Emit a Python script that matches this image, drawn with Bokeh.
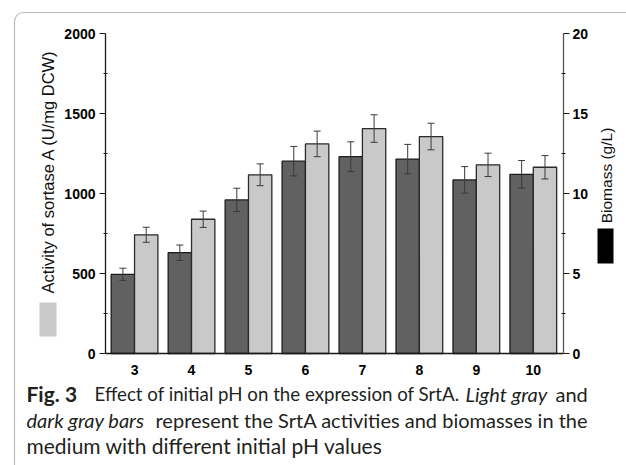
from bokeh.plotting import figure
from bokeh.models import (ColumnDataSource, Range1d, LinearAxis, Label,
                          BoxAnnotation, FixedTicker, Whisker, TeeHead)
from bokeh.transform import dodge
from bokeh.embed import file_html
from bokeh.resources import INLINE

# Initial pH of the medium
ph = [3, 4, 5, 6, 7, 8, 9, 10]
# SrtA activity (U/mg DCW), light gray bars, left axis
activity = [742, 839, 1117, 1310, 1406, 1356, 1179, 1164]
activity_err = [47, 51, 68, 80, 86, 83, 73, 73]
# Biomass (g/L), dark gray bars, right axis
biomass = [4.95, 6.30, 9.60, 12.02, 12.30, 12.15, 10.85, 11.20]
biomass_err = [0.38, 0.48, 0.73, 0.92, 0.93, 0.92, 0.83, 0.86]

left_ticks = [0, 500, 1000, 1500, 2000]
left_minor = [250, 750, 1250, 1750]
right_ticks = [0, 5, 10, 15, 20]
right_minor = [2.5, 7.5, 12.5, 17.5]

src = ColumnDataSource(dict(
    ph=ph,
    activity=activity,
    act_lo=[v - e for v, e in zip(activity, activity_err)],
    act_hi=[v + e for v, e in zip(activity, activity_err)],
    biomass=biomass,
    bio_lo=[v - e for v, e in zip(biomass, biomass_err)],
    bio_hi=[v + e for v, e in zip(biomass, biomass_err)],
))

FONT = "Liberation Sans"
CAPTION_FONT = "Lato"

W, H = 626, 465
# pixel box of the chart area inside the page, the axes sit on its edges
AX_L, AX_R, AX_T, AX_B = 105, 563, 33, 353
X0, X1 = 2.49, 10.53          # pH range spanned by the chart area
Y1 = 2000                      # activity axis top
Y1_BIO = 20                    # biomass axis top

# the frame fills the whole page so the caption and titles can be drawn as annotations
xs = (X1 - X0) / (AX_R - AX_L)
ys = Y1 / (AX_B - AX_T)
ysb = Y1_BIO / (AX_B - AX_T)
x_range = Range1d(X0 - AX_L * xs, X1 + (W - AX_R) * xs)
y_range = Range1d(-(H - AX_B) * ys, Y1 + AX_T * ys)
bio_range = Range1d(-(H - AX_B) * ysb, Y1_BIO + AX_T * ysb)

p = figure(width=W, height=H, title=None, x_range=x_range, y_range=y_range,
           output_backend="svg", toolbar_location=None,
           x_axis_location=None, y_axis_location=None,
           min_border=0, min_border_left=0, min_border_right=0,
           min_border_top=0, min_border_bottom=0)
p.extra_y_ranges = {"bio": bio_range}
p.grid.visible = False
p.outline_line_color = None
p.background_fill_color = "white"
p.border_fill_color = "white"

# bars
bar_w = 0.41
p.vbar(x=dodge("ph", -bar_w / 2, range=p.x_range), top="biomass", width=bar_w,
       y_range_name="bio", source=src, fill_color="#616161",
       line_color="#1c1c1c", line_width=1.3)
p.vbar(x=dodge("ph", bar_w / 2, range=p.x_range), top="activity", width=bar_w,
       source=src, fill_color="#c9c9c9", line_color="#2a2a2a", line_width=1.3)

# error bars
for off, lo, hi, rng in [(-bar_w / 2, "bio_lo", "bio_hi", "bio"),
                         (bar_w / 2, "act_lo", "act_hi", "default")]:
    w = Whisker(source=src, base=dodge("ph", off, range=p.x_range),
                lower=lo, upper=hi, dimension="height", level="overlay",
                line_color="#3a3a3a", line_width=1,
                upper_head=TeeHead(size=7, line_color="#3a3a3a", line_width=1),
                lower_head=TeeHead(size=7, line_color="#3a3a3a", line_width=1))
    w.y_range_name = rng
    p.add_layout(w)

# axes
def style_axis(ax):
    ax.major_label_text_font = FONT
    ax.major_label_text_font_style = "bold"
    ax.major_label_text_font_size = "14px"
    ax.major_label_text_color = "black"
    ax.axis_line_color = "#1a1a1a"
    ax.axis_line_width = 1.3
    ax.major_tick_line_color = "#1a1a1a"
    ax.minor_tick_line_color = "#1a1a1a"
    ax.major_tick_line_width = 1.2
    ax.major_tick_out = 6
    ax.major_tick_in = 0
    ax.minor_tick_out = 2
    ax.minor_tick_in = 2

ly = LinearAxis(fixed_location=X0, bounds=(0, Y1))
ly.ticker = FixedTicker(ticks=left_ticks, minor_ticks=left_minor)
style_axis(ly)
ly.major_label_standoff = 4
p.add_layout(ly, "left")

ry = LinearAxis(y_range_name="bio", fixed_location=X1, bounds=(0, Y1_BIO))
ry.ticker = FixedTicker(ticks=right_ticks, minor_ticks=right_minor)
style_axis(ry)
ry.major_label_standoff = 3
ry.axis_line_color = "#555555"
p.add_layout(ry, "right")

bx = LinearAxis(fixed_location=0, bounds=(X0, X1))
bx.ticker = FixedTicker(ticks=ph, minor_ticks=[])
style_axis(bx)
bx.major_tick_out = 0
bx.major_tick_in = 0
bx.minor_tick_out = 0
bx.minor_tick_in = 0
bx.major_label_standoff = 11
p.add_layout(bx, "below")

# page pixel -> annotation screen position (origin bottom-left)
def sx(px):
    return px
def sy(py):
    return H - py

def swatch(l, r, t, b, color):
    p.add_layout(BoxAnnotation(left=sx(l), right=sx(r), top=sy(t), bottom=sy(b),
                               left_units="screen", right_units="screen",
                               top_units="screen", bottom_units="screen",
                               fill_color=color, fill_alpha=1, line_color=None))

# axis titles with their series swatches
p.add_layout(Label(x=sx(47), y=sy(171), x_units="screen", y_units="screen",
                   text="Activity of sortase A (U/mg DCW)", angle=90, angle_units="deg",
                   text_align="center", text_baseline="middle",
                   text_font=FONT, text_font_size="16.5px", text_color="#111111"))
swatch(39, 56, 302, 336, "#c9c9c9")
p.add_layout(Label(x=sx(606), y=sy(175), x_units="screen", y_units="screen",
                   text="Biomass (g/L)", angle=90, angle_units="deg",
                   text_align="center", text_baseline="middle",
                   text_font=FONT, text_font_size="15.5px", text_color="#111111"))
swatch(597, 613, 228, 263, "black")

# rounded frame around chart and caption
p.add_layout(BoxAnnotation(left=sx(14), right=sx(W + 40), top=sy(12), bottom=sy(H + 40),
                           left_units="screen", right_units="screen",
                           top_units="screen", bottom_units="screen",
                           fill_alpha=0, line_color="#222222", line_width=1.2,
                           border_radius=9))

# caption
def cap(px, py, text, style="normal", size="20px"):
    p.add_layout(Label(x=sx(px), y=sy(py), x_units="screen", y_units="screen", text=text,
                       text_font=CAPTION_FONT, text_font_size=size,
                       text_font_style=style, text_color="#231f20",
                       text_align="left", text_baseline="alphabetic"))

cap(26, 393, "Fig. 3", "bold", "21px")
cap(94, 393, "Effect of initial pH on the expression of SrtA.", size="18.7px")
cap(465, 393, "Light gray", "italic")
cap(555, 393, "and")
cap(26, 419, "dark gray bars", "italic")
cap(155, 419, "represent the SrtA activities and biomasses in the")
cap(26, 445, "medium with different initial pH values", size="21px")

open("out.html", "w").write(file_html(p, INLINE))
